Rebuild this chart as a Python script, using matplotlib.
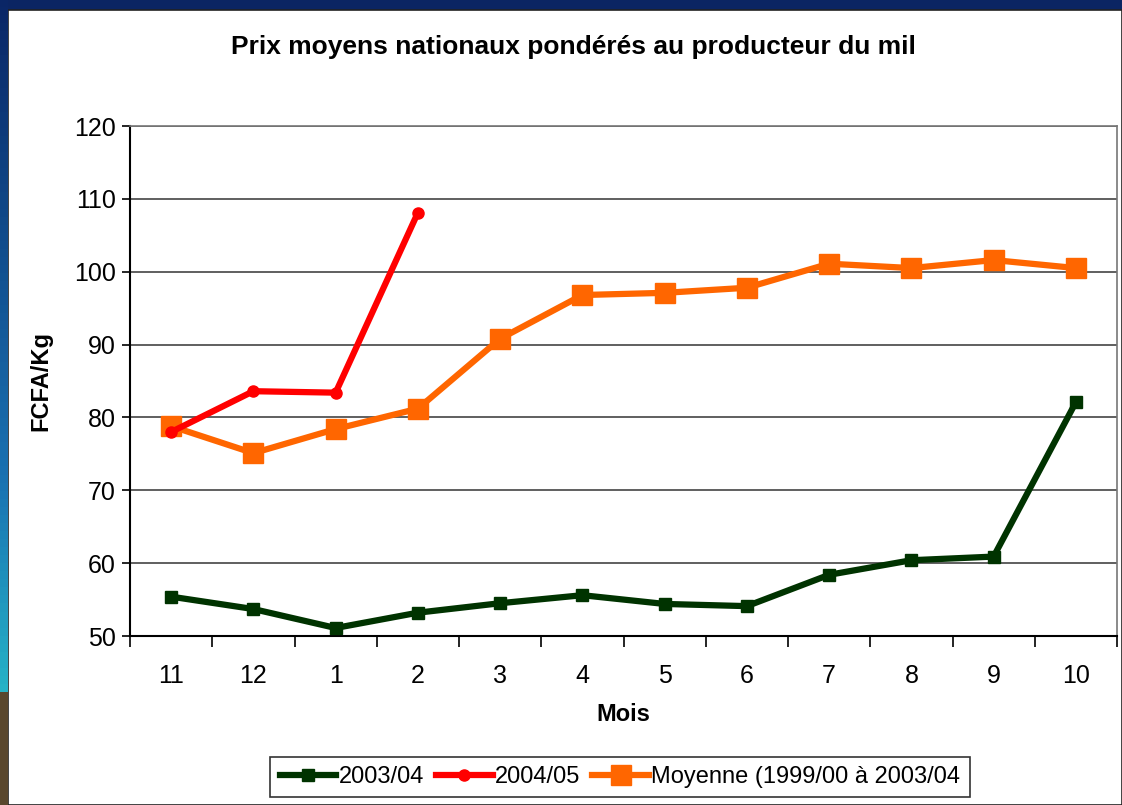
import matplotlib
matplotlib.use("Agg")
import matplotlib.pyplot as plt
import numpy as np
from matplotlib.patches import Rectangle

plt.rcParams['font.family'] = ['Liberation Sans', 'DejaVu Sans']

months = ["11", "12", "1", "2", "3", "4", "5", "6", "7", "8", "9", "10"]
s2003 = [55.4, 53.7, 51.1, 53.2, 54.5, 55.6, 54.4, 54.1, 58.4, 60.4, 60.9, 82.1]
s2004 = [78.0, 83.6, 83.4, 108.1]
moyenne = [78.8, 75.1, 78.4, 81.2, 90.8, 96.8, 97.1, 97.8, 101.1, 100.5, 101.6, 100.5]

labels = ["2003/04", "2004/05", "Moyenne (1999/00 à 2003/04"]
title = "Prix moyens nationaux pondérés au producteur du mil"

W, H = 1122, 805
fig = plt.figure(figsize=(W / 100, H / 100), dpi=100)
fig.patch.set_facecolor("#0b2563")

# left gradient strip
bg = fig.add_axes([0, 0, 8 / W, 1])
grad = np.zeros((100, 1, 3))
top = np.array([0.04, 0.15, 0.40])
mid = np.array([0.10, 0.45, 0.70])
cyan = np.array([0.15, 0.70, 0.78])
brown = np.array([0.35, 0.28, 0.18])
for i in range(100):
    t = i / 99
    if t < 0.6:
        c = top + (mid - top) * (t / 0.6)
    elif t < 0.86:
        c = mid + (cyan - mid) * ((t - 0.6) / 0.26)
    else:
        c = brown
    grad[i, 0] = c
bg.imshow(grad, aspect="auto", extent=[0, 1, 0, 1], origin="upper")
bg.set_axis_off()

# white panel
fig.patches.append(Rectangle((8 / W, 0), 1 - 8 / W, (H - 10) / H,
                             transform=fig.transFigure, facecolor="white",
                             edgecolor="#222222", linewidth=1.2, zorder=-10))

ax = fig.add_axes([130 / W, (H - 636) / H, (1117 - 130) / W, (636 - 126) / H])
ax.set_facecolor("white")
x = np.arange(len(months)) + 0.5

ax.plot(x, s2003, color="#003300", lw=4.5, marker="s", ms=8, label=labels[0], zorder=3)
ax.plot(x[:len(s2004)], s2004, color="#ff0000", lw=4.5, marker="o", ms=8, label=labels[1], zorder=4)
ax.plot(x, moyenne, color="#ff6600", lw=4.5, marker="s", ms=14, label=labels[2], zorder=3)

ax.set_xlim(0, 12)
ax.set_ylim(50, 120)
ax.set_yticks(range(50, 121, 10))
ax.set_xticks(x)
ax.set_xticklabels(months)
ax.set_xticks(np.arange(0, 13), minor=True)
ax.tick_params(axis="x", which="major", length=0, pad=20, labelsize=18)
ax.tick_params(axis="x", which="minor", length=8, width=1.2, direction="out")
ax.tick_params(axis="y", length=6, width=1.2, direction="out", labelsize=18, pad=4)
ax.yaxis.grid(True, color="#444444", lw=1.2)
ax.set_axisbelow(True)
for s in ["top", "right"]:
    ax.spines[s].set_color("#777777")
    ax.spines[s].set_linewidth(1.2)
for s in ["left", "bottom"]:
    ax.spines[s].set_color("black")
    ax.spines[s].set_linewidth(1.5)

ax.set_xlabel("Mois", fontsize=17, fontweight="bold", labelpad=11)
ax.set_ylabel("FCFA/Kg", fontsize=17, fontweight="bold", labelpad=16)
fig.text(573 / W, 1 - 47 / H, title, ha="center", va="center", fontsize=19, fontweight="bold")

leg = fig.legend(loc="center", bbox_to_anchor=(620 / W, 1 - 777 / H), ncol=3,
                 frameon=True, fancybox=False, edgecolor="black", fontsize=17,
                 handlelength=2.4, handletextpad=0.1, columnspacing=0.5,
                 borderpad=0.4)
leg.get_frame().set_linewidth(1.2)

fig.savefig("out.png", dpi=100, facecolor=fig.get_facecolor())
